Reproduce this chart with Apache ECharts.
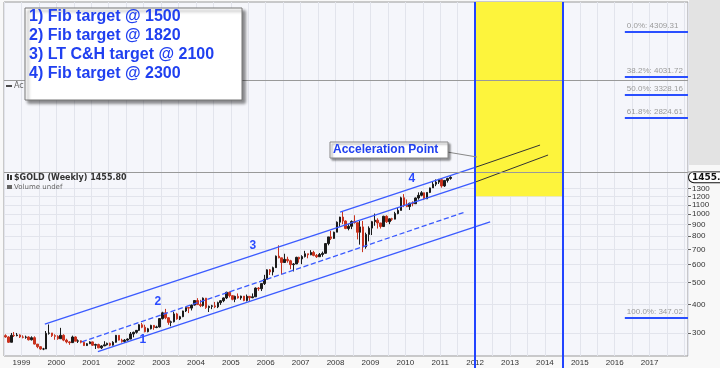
<!DOCTYPE html>
<html><head><meta charset="utf-8">
<script src="https://cdn.jsdelivr.net/npm/echarts@6/dist/echarts.min.js"></script>
<style>html,body{margin:0;padding:0;background:#f8f8f8}#c{width:720px;height:368px}</style>
</head><body><div id="c"></div>
<script>
// ---- data (monthly, Jul 1998 .. Apr 2011) ----
const startYear = 1998, startMonth = 7;
const firstOpen = 292;
const closes = [
 288,273,293,292,294,288,
 287,288,280,286,268,261,255,255,299,300,292,290,
 283,293,279,274,272,288,276,277,273,264,269,274,
 265,267,258,263,266,270,265,273,293,279,275,279,
 282,297,302,308,326,318,304,313,324,317,319,347,
 368,350,334,336,364,346,354,375,388,386,398,417,
 400,396,427,388,393,395,391,408,416,428,453,438,
 422,435,428,436,417,435,429,433,473,470,495,517,
 569,557,582,654,643,613,633,624,600,604,646,636,
 651,670,663,679,659,650,665,673,743,795,783,834,
 923,972,934,866,885,930,918,833,880,718,815,869,
 928,942,916,883,980,927,955,952,1007,1040,1182,1096,
 1081,1118,1113,1180,1212,1244,1169,1248,1307,1357,1386,1421,
 1333,1410,1439,1455.8];
const highs = [
 296,290,300,303,300,296,
 293,292,290,290,290,267,262,258,306,327,300,296,
 293,316,296,283,276,292,290,281,278,274,271,276,
 275,269,269,265,276,272,272,276,294,293,283,282,
 284,303,304,309,328,332,326,316,326,325,323,349,
 372,383,352,340,372,368,357,376,389,388,400,417,
 427,420,430,428,396,399,411,412,419,430,456,456,
 440,438,448,438,436,443,434,448,476,478,496,541,
 572,574,588,658,730,640,670,650,630,610,650,650,
 660,690,668,695,690,668,675,685,745,795,845,838,
 930,975,1030,940,905,940,990,920,935,935,830,885,
 935,1007,960,915,985,990,960,965,1025,1070,1195,1227,
 1162,1125,1140,1185,1249,1265,1215,1250,1310,1388,1424,1432,
 1424,1415,1448,1470];
const lows = [
 286,271,273,288,290,285,
 284,283,278,278,267,257,253,252,255,295,288,280,
 280,283,276,270,266,271,276,271,270,263,263,268,
 263,255,257,255,263,264,262,264,272,278,272,271,
 277,282,287,298,306,315,302,302,311,310,315,317,
 344,345,326,321,334,343,342,352,371,367,377,396,
 399,390,392,383,371,382,386,386,399,410,423,430,
 418,410,425,420,414,413,415,427,433,460,459,488,
 517,540,538,580,640,543,610,612,573,560,610,612,
 603,645,640,660,653,642,650,650,672,730,770,780,
 835,880,905,860,850,860,910,775,735,681,705,760,
 810,890,865,865,880,915,905,935,950,1000,1040,1075,
 1075,1045,1085,1110,1160,1200,1155,1175,1240,1310,1330,1360,
 1310,1320,1380,1420];
const lastPrice = 1455.80;

const xMin = 1998.5, xMax = 2018.1, lastYearLabel = 2017;
const yMin = 237.5, yMax = 8613;
const yTickValues = [300,400,500,600,700,800,900,1000,1100,1200,1300];

// trend channel lines [year, price]
const channelUpper  = [[1999.67, 328], [2012.02, 1389]];
const channelTop4   = [[2008.13, 1023], [2012.02, 1613]];
const channelMid    = [[2000.73, 274], [2011.71, 1023]];
const channelLower  = [[2001.19, 248], [2012.43, 925]];
const extUpper      = [[2012.02, 1613], [2013.86, 2018]];
const extLower      = [[2012.02, 1389], [2014.09, 1824]];

// target zone
const zoneYears = [2012, 2014.5];
const zoneFloor = 1200;

// panel separators (price positions)
const separators = [3905, 1536];

// fib levels (line positions) and their texts
const fibStartYear = 2016.29;
const fibLevels = [6352, 4025, 3353, 2656, 349];
const fibTexts = ['0.0%: 4309.31', '38.2%: 4031.72', '50.0%: 3328.16', '61.8%: 2824.61', '100.0%: 347.02'];

// wave numbers
const waveLabels = [[2002.48, 281, '1'], [2002.91, 411, '2'], [2005.63, 725, '3'], [2010.19, 1431, '4']];

const noteLines = ['1) Fib target @ 1500', '2) Fib target @ 1820', '3) LT C&H target @ 2100', '4) Fib target @ 2300'];

// ---- build ----
const ohlc = closes.map((c, i) => {
  const x = startYear + (startMonth - 1 + i + 0.5) / 12;
  const o = i === 0 ? firstOpen : closes[i - 1];
  return [x, o, c, Math.min(lows[i], o, c), Math.max(highs[i], o, c)];
});

const BLUE = '#3b5bff';
const chart = echarts.init(document.getElementById('c'));
const lineS = (data, color, type, width, z) => ({
  type: 'line', data, symbol: 'none', silent: true, animation: false, z: z || 4,
  lineStyle: { color, width: width || 1.3, type: type || 'solid' }, xAxisIndex: 0, yAxisIndex: 0
});

chart.setOption({
  animation: false,
  backgroundColor: '#f8f8f8',
  grid: [
    { left: 4, right: 32, top: 2, bottom: 12, show: true, backgroundColor: '#f5f6fb', borderColor: '#9a9a9a', borderWidth: 1,
      containLabel: false, outerBoundsMode: 'none' },
    { left: 4, right: 32, top: 356, bottom: 0, show: false, containLabel: false, outerBoundsMode: 'none' }
  ],
  xAxis: [
    { type: 'value', gridIndex: 0, min: xMin, max: xMax, interval: 0.5,
      axisLine: { show: false }, axisTick: { show: false },
      splitLine: { show: true, lineStyle: { color: '#e2e4ec', width: 1 } },
      axisLabel: { margin: 3, fontSize: 8, color: '#333', fontFamily: 'Liberation Sans',
        formatter: v => (Math.abs(v - Math.round(v)) < 1e-6 && v <= lastYearLabel) ? String(Math.round(v)) : '' } },
    { type: 'value', gridIndex: 1, min: xMin, max: xMax, show: false }
  ],
  yAxis: [
    { type: 'log', logBase: 10, gridIndex: 0, position: 'right', min: yMin, max: yMax,
      axisLine: { show: false },
      axisTick: { show: true, length: 3, customValues: yTickValues, lineStyle: { color: '#666' } },
      splitLine: { show: true, lineStyle: { color: '#e2e4ec' } },
      axisLabel: { customValues: yTickValues, margin: 4, fontSize: 8, color: '#333', fontFamily: 'Liberation Sans',
        formatter: v => String(Math.round(v)) } },
    { type: 'log', logBase: 10, gridIndex: 0, position: 'right', min: yMin, max: yMax,
      axisLine: { show: false }, axisTick: { show: false }, splitLine: { show: false },
      axisLabel: { customValues: [lastPrice], margin: 1, formatter: () => '{t|' + lastPrice.toFixed(2) + '}',
        rich: { t: { backgroundColor: '#fff', borderColor: '#111', borderWidth: 1, borderRadius: 5,
          padding: [1, 3, 0, 3], fontSize: 9, fontWeight: 'bold', color: '#111', fontFamily: 'DejaVu Sans' } } } },
    { type: 'value', gridIndex: 1, min: 0, max: 1, show: false }
  ],
  series: [
    { type: 'line', data: [], xAxisIndex: 0, yAxisIndex: 0, z: 1, silent: true,
      markArea: { silent: true, itemStyle: { color: '#fdf43c' },
        data: [[{ coord: [zoneYears[0], zoneFloor] }, { coord: [zoneYears[1], yMax] }]] },
      markLine: { silent: true, symbol: 'none', label: { show: false },
        lineStyle: { color: '#999', width: 1, type: 'solid' },
        data: separators.map(v => ({ yAxis: v })) } },
    { type: 'candlestick', data: ohlc, encode: { x: 0, y: [1, 2, 3, 4] }, xAxisIndex: 0, yAxisIndex: 0,
      barWidth: 2, z: 3, silent: true,
      itemStyle: { color: '#1a1a1a', color0: '#c8321e', borderColor: '#1a1a1a', borderColor0: '#c8321e', borderWidth: 1 } },
    lineS(channelUpper, BLUE),
    lineS(channelTop4, BLUE),
    lineS(channelMid, BLUE, 'dashed'),
    lineS(channelLower, BLUE),
    lineS(extUpper, '#333', 'solid', 1),
    lineS(extLower, '#333', 'solid', 1),
    { type: 'line', data: [], xAxisIndex: 0, yAxisIndex: 0, z: 6, silent: true,
      markLine: { silent: true, symbol: 'none',
        data: [
          ...zoneYears.map(v => ({ xAxis: v, label: { show: false }, lineStyle: { color: '#2244ff', width: 2, type: 'solid' } })),
          ...fibLevels.map((v, i) => [
            { coord: [fibStartYear, v], lineStyle: { color: '#2a4fff', width: 2, type: 'solid' },
              label: { show: true, position: 'insideStartTop', distance: [2, 2], formatter: fibTexts[i],
                fontSize: 8, color: '#9a9a9a', fontFamily: 'Liberation Sans' } },
            { coord: [xMax, v] }])
        ] },
      markPoint: { silent: true, symbol: 'rect', symbolSize: 1, itemStyle: { color: 'rgba(0,0,0,0)' },
        label: { show: true, position: 'inside', fontSize: 12, fontWeight: 'bold', color: '#2a4bff', fontFamily: 'Liberation Sans' },
        data: waveLabels.map(w => ({ coord: [w[0], w[1]], label: { formatter: w[2] } })) } },
    { type: 'line', data: [[2000, 0.5]], xAxisIndex: 1, yAxisIndex: 2, symbol: 'none', z: 10, silent: true,
      markLine: { silent: true, symbol: 'none', label: { show: false },
        lineStyle: { color: '#2244ff', width: 2, type: 'solid' },
        data: zoneYears.map(v => ({ xAxis: v })) } }
  ],
  graphic: [
    { type: 'rect', shape: { x: 689, y: 0, width: 31, height: 165 }, style: { fill: '#e3e3e3' }, z: 0 },
    { type: 'line', shape: { x1: 688, y1: 172, x2: 720, y2: 172 }, style: { stroke: '#999', lineWidth: 1 }, z: 1 },
    { type: 'line', shape: { x1: 6, y1: 86, x2: 12, y2: 86 }, style: { stroke: '#111', lineWidth: 1.5 }, z: 50 },
    { type: 'text', x: 14, y: 86, style: { text: 'Ac', fontSize: 8, fill: '#666', verticalAlign: 'middle', fontFamily: 'DejaVu Sans' }, z: 50 },
    { type: 'rect', shape: { x: 25, y: 8, width: 217, height: 92 },
      style: { fill: '#fff', stroke: '#777', lineWidth: 1, shadowBlur: 3, shadowOffsetX: 3, shadowOffsetY: 3, shadowColor: 'rgba(0,0,0,0.45)' }, z: 100 },
    ...noteLines.map((t, i) => ({ type: 'text', x: 29, y: 17 + i * 19, z: 101,
      style: { text: t, fill: '#2040f0', font: 'bold 16px "Liberation Sans", Arial', verticalAlign: 'middle' } })),
    { type: 'line', shape: { x1: 447, y1: 152, x2: 477, y2: 157 }, style: { stroke: '#888', lineWidth: 1 }, z: 100 },
    { type: 'rect', shape: { x: 330, y: 142, width: 118, height: 16 },
      style: { fill: '#fff', stroke: '#888', lineWidth: 1, shadowBlur: 2, shadowOffsetX: 2, shadowOffsetY: 2, shadowColor: 'rgba(0,0,0,0.4)' }, z: 100 },
    { type: 'text', x: 333, y: 150, z: 101,
      style: { text: 'Acceleration Point', fill: '#2040f0', font: 'bold 12px "Liberation Sans", Arial', verticalAlign: 'middle' } },
    { type: 'rect', shape: { x: 7, y: 174, width: 2, height: 6 }, style: { fill: '#333' }, z: 50 },
    { type: 'rect', shape: { x: 10, y: 175, width: 2, height: 5 }, style: { fill: '#333' }, z: 50 },
    { type: 'text', x: 14, y: 178, z: 50,
      style: { text: '$GOLD (Weekly) 1455.80', font: 'bold 8px "DejaVu Sans"', fill: '#333', verticalAlign: 'middle' } },
    { type: 'rect', shape: { x: 7, y: 185, width: 5, height: 4 }, style: { fill: '#666' }, z: 50 },
    { type: 'text', x: 14, y: 187, z: 50,
      style: { text: 'Volume undef', font: '7px "DejaVu Sans"', fill: '#666', verticalAlign: 'middle' } }
  ]
});
</script></body></html>
